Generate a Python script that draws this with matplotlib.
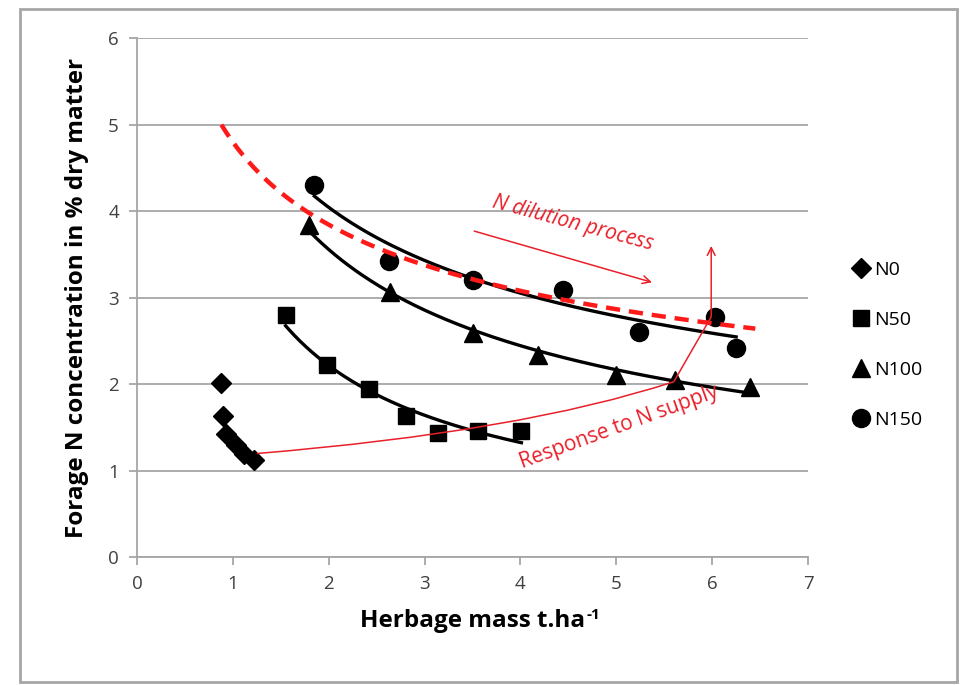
import numpy as np
import matplotlib
matplotlib.use('Agg')
import matplotlib.pyplot as plt
from matplotlib.patches import Rectangle
from matplotlib.path import Path
from matplotlib.patches import PathPatch

plt.rcParams['font.family'] = ['Open Sans', 'DejaVu Sans']

# herbage mass (t/ha) and N concentration (%) per treatment
n0_x = [0.88, 0.90, 0.93, 1.03, 1.12, 1.22]
n0_y = [2.02, 1.63, 1.42, 1.30, 1.20, 1.12]

n50_x = [1.55, 1.98, 2.42, 2.81, 3.14, 3.56, 4.01]
n50_y = [2.80, 2.22, 1.94, 1.63, 1.44, 1.46, 1.46]

n100_x = [1.79, 2.64, 3.51, 4.18, 5.00, 5.61, 6.39]
n100_y = [3.84, 3.07, 2.59, 2.34, 2.11, 2.05, 1.97]

n150_x = [1.85, 2.63, 3.51, 4.44, 5.24, 6.03, 6.25]
n150_y = [4.30, 3.43, 3.21, 3.09, 2.61, 2.78, 2.42]

# critical N dilution curve Nc = a * W^-b
dil_a, dil_b = 4.8, 0.32
dil_range = (0.88, 6.45)

series = [
    ('N0', n0_x, n0_y, 'D', 10, False),
    ('N50', n50_x, n50_y, 's', 12, True),
    ('N100', n100_x, n100_y, '^', 13, True),
    ('N150', n150_x, n150_y, 'o', 13, True),
]

fig = plt.figure(figsize=(9.67, 6.85), dpi=100)
ax = fig.add_axes([0.1417, 0.1864, 0.6939, 0.7577])

grid_c = '#a6a6a6'
for name, xs, ys, mk, ms, fit in series:
    xs = np.array(xs)
    ys = np.array(ys)
    if fit:
        # power trendline, as in the spreadsheet
        b, la = np.polyfit(np.log(xs), np.log(ys), 1)
        xx = np.linspace(xs.min(), xs.max(), 200)
        ax.plot(xx, np.exp(la) * xx ** b, color='black', lw=2.4, zorder=3)
    ax.plot(xs, ys, linestyle='none', marker=mk, markersize=ms, color='black',
            label=name, zorder=4)

w = np.linspace(dil_range[0], dil_range[1], 200)
ax.plot(w, dil_a * w ** (-dil_b), color='#ff1a1a', lw=3.2, dashes=(3.2, 2.0), zorder=5)

# annotations
red = '#e8202a'
ax.annotate('', xy=(5.40, 3.17), xytext=(3.49, 3.78),
            arrowprops=dict(arrowstyle='->', color=red, lw=1.1, mutation_scale=14), zorder=6)
ax.text(4.55, 3.86, 'N dilution process', color=red, fontsize=15, style='italic',
        rotation=-15, ha='center', va='center', zorder=6)

verts = [(1.25, 1.20), (4.0, 1.45), (5.60, 2.03), (5.99, 2.78)]
codes = [Path.MOVETO, Path.CURVE3, Path.CURVE3, Path.LINETO]
ax.add_patch(PathPatch(Path(verts, codes), fill=False, edgecolor=red, lw=1.1, zorder=6))
ax.annotate('', xy=(5.99, 3.60), xytext=(5.99, 2.78),
            arrowprops=dict(arrowstyle='->', color=red, lw=1.1, mutation_scale=14,
                            shrinkA=0, shrinkB=0), zorder=6)
ax.text(5.03, 1.50, 'Response to N supply', color=red, fontsize=15,
        rotation=20, ha='center', va='center', zorder=6)

ax.set_xlim(0, 7)
ax.set_ylim(0, 6)
ax.set_xticks(range(0, 8))
ax.set_yticks(range(0, 7))
ax.yaxis.grid(True, color=grid_c, lw=1.3)
ax.set_axisbelow(True)
for s in ['top', 'right']:
    ax.spines[s].set_visible(False)
for s in ['left', 'bottom']:
    ax.spines[s].set_color(grid_c)
    ax.spines[s].set_linewidth(1.3)
ax.tick_params(axis='both', colors=grid_c, length=6, width=1.3, labelsize=13.5,
               labelcolor='#404040', pad=7)

ax.set_xlabel('Herbage mass t.ha', fontsize=17.5, fontweight='bold', labelpad=11)
ax.set_ylabel('Forage N concentration in % dry matter', fontsize=17.5, fontweight='bold',
              labelpad=14)

ax.legend(loc='center left', bbox_to_anchor=(1.035, 0.409), frameon=False, fontsize=14,
          handletextpad=0.1, labelspacing=1.65, handlelength=1.2)

fig.patches.append(Rectangle((0.021, 0.004), 0.969, 0.983, transform=fig.transFigure,
                             fill=False, edgecolor='#a6a6a6', lw=2))

# superscript of the x label
fig.canvas.draw()
bb = ax.xaxis.label.get_window_extent()
fig.text((bb.x1 + 1) / fig.bbox.width, (bb.y1 + 1) / fig.bbox.height, '-1',
         fontsize=11, fontweight='bold', ha='left', va='top')

fig.savefig('out.png', dpi=100)
